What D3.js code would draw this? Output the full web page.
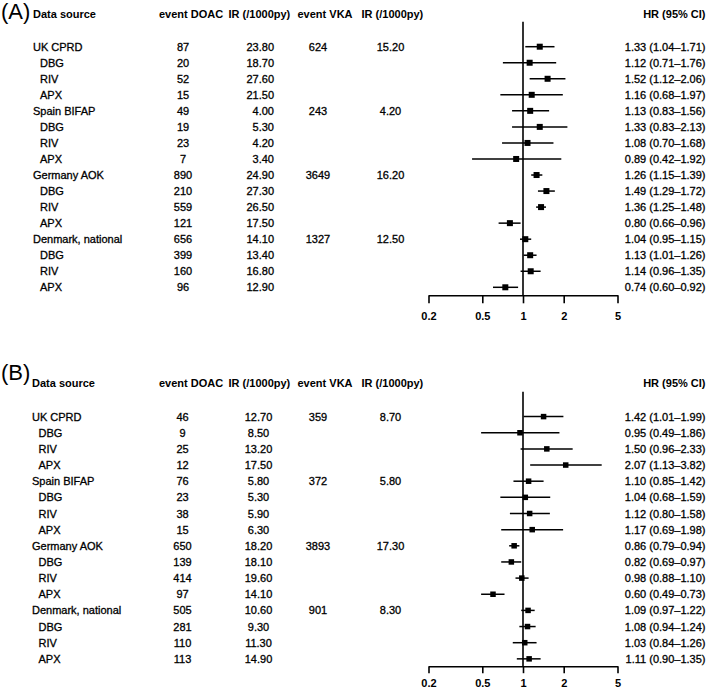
<!DOCTYPE html>
<html>
<head>
<meta charset="utf-8">
<script src="https://cdn.jsdelivr.net/npm/d3@7"></script>
<style>
  html, body { margin: 0; padding: 0; background: #fff; }
  svg { display: block; }
  text { font-family: "Liberation Sans", Arial, sans-serif; fill: #000; }
  .reg { font-size: 11px; stroke: #000; stroke-width: 0.3px; }
  .hdr { font-size: 11px; font-weight: bold; }
  .tick text { font-size: 11px; font-weight: bold; font-family: "Liberation Sans", Arial, sans-serif; }
</style>
</head>
<body>
<script>
// ---------- Data ----------
const rowLabels = ["UK CPRD", "DBG", "RIV", "APX", "Spain BIFAP", "DBG", "RIV", "APX",
                   "Germany AOK", "DBG", "RIV", "APX", "Denmark, national", "DBG", "RIV", "APX"];
const isSubgroup = [false, true, true, true, false, true, true, true,
                    false, true, true, true, false, true, true, true];
const headers = ["Data source", "event DOAC", "IR (/1000py)", "event VKA", "IR (/1000py)", "HR (95% CI)"];
const tickValues = [0.2, 0.5, 1, 2, 5];
const tickLabels = ["0.2", "0.5", "1", "2", "5"];

// Panel A
const aEventDOAC = [87, 20, 52, 15, 49, 19, 23, 7, 890, 210, 559, 121, 656, 399, 160, 96];
const aIrDOAC = [23.80, 18.70, 27.60, 21.50, 4.00, 5.30, 4.20, 3.40, 24.90, 27.30, 26.50, 17.50, 14.10, 13.40, 16.80, 12.90];
const aEventVKA = [624, null, null, null, 243, null, null, null, 3649, null, null, null, 1327, null, null, null];
const aIrVKA = [15.20, null, null, null, 4.20, null, null, null, 16.20, null, null, null, 12.50, null, null, null];
const aHR = [1.33, 1.12, 1.52, 1.16, 1.13, 1.33, 1.08, 0.89, 1.26, 1.49, 1.36, 0.80, 1.04, 1.13, 1.14, 0.74];
const aLo = [1.04, 0.71, 1.12, 0.68, 0.83, 0.83, 0.70, 0.42, 1.15, 1.29, 1.25, 0.66, 0.95, 1.01, 0.96, 0.60];
const aHi = [1.71, 1.76, 2.06, 1.97, 1.56, 2.13, 1.68, 1.92, 1.39, 1.72, 1.48, 0.96, 1.15, 1.26, 1.35, 0.92];

// Panel B
const bEventDOAC = [46, 9, 25, 12, 76, 23, 38, 15, 650, 139, 414, 97, 505, 281, 110, 113];
const bIrDOAC = [12.70, 8.50, 13.20, 17.50, 5.80, 5.30, 5.90, 6.30, 18.20, 18.10, 19.60, 14.10, 10.60, 9.30, 11.30, 14.90];
const bEventVKA = [359, null, null, null, 372, null, null, null, 3893, null, null, null, 901, null, null, null];
const bIrVKA = [8.70, null, null, null, 5.80, null, null, null, 17.30, null, null, null, 8.30, null, null, null];
const bHR = [1.42, 0.95, 1.50, 2.07, 1.10, 1.04, 1.12, 1.17, 0.86, 0.82, 0.98, 0.60, 1.09, 1.08, 1.03, 1.11];
const bLo = [1.01, 0.49, 0.96, 1.13, 0.85, 0.68, 0.80, 0.69, 0.79, 0.69, 0.88, 0.49, 0.97, 0.94, 0.84, 0.90];
const bHi = [1.99, 1.86, 2.33, 3.82, 1.42, 1.59, 1.58, 1.98, 0.94, 0.97, 1.10, 0.73, 1.22, 1.24, 1.26, 1.35];

// ---------- Drawing ----------
const W = 709, H = 692;
const svg = d3.select("body").append("svg").attr("width", W).attr("height", H);

const x = d3.scaleLog().domain([0.2, 5]).range([428.5, 617.5]);

function panel(cfg) {
  const g = svg.append("g");
  const n = rowLabels.length;
  const y = d3.scaleLinear().domain([0, n - 1]).range([cfg.row0, cfg.row0 + (n - 1) * cfg.step]);

  // Panel letter
  g.append("text").attr("x", 1).attr("y", cfg.letterY)
    .style("font-size", "22px").text(cfg.letter);

  // Headers
  const hx = [cfg.labelX, 159, 228.5, 297.5, 361.5, 705.5];
  const ha = ["start", "start", "start", "start", "start", "end"];
  headers.forEach((h, i) => {
    g.append("text").attr("class", "hdr").attr("x", hx[i]).attr("y", cfg.headerY)
      .attr("text-anchor", ha[i]).text(h);
  });

  const fmt2 = d3.format(".2f");
  const rows = g.selectAll("g.row").data(d3.range(n)).join("g").attr("class", "row");
  const base = i => y(i) + 4;

  rows.append("text").attr("class", "reg")
    .attr("x", i => isSubgroup[i] ? cfg.subX : cfg.labelX).attr("y", base)
    .text(i => rowLabels[i]);
  rows.append("text").attr("class", "reg").attr("text-anchor", "middle")
    .attr("x", cfg.evDX).attr("y", base).text(i => cfg.evD[i]);
  rows.append("text").attr("class", "reg").attr("text-anchor", cfg.irDAnchor)
    .attr("x", cfg.irDX).attr("y", base).text(i => fmt2(cfg.irD[i]));
  rows.filter(i => cfg.evV[i] !== null).append("text").attr("class", "reg")
    .attr("text-anchor", "middle").attr("x", 318).attr("y", base).text(i => cfg.evV[i]);
  rows.filter(i => cfg.irV[i] !== null).append("text").attr("class", "reg")
    .attr("text-anchor", "middle").attr("x", 390.5).attr("y", base).text(i => fmt2(cfg.irV[i]));
  rows.append("text").attr("class", "reg").attr("text-anchor", "end")
    .attr("x", 705.5).attr("y", base)
    .text(i => `${fmt2(cfg.hr[i])} (${fmt2(cfg.lo[i])}\u2013${fmt2(cfg.hi[i])})`);

  // Reference line at HR = 1
  g.append("line").attr("x1", x(1)).attr("x2", x(1))
    .attr("y1", cfg.refTop).attr("y2", cfg.axisY)
    .attr("stroke", "#000").attr("stroke-width", 1.6);

  // CI lines and squares
  rows.append("line")
    .attr("x1", i => x(cfg.lo[i])).attr("x2", i => x(cfg.hi[i]))
    .attr("y1", i => y(i)).attr("y2", i => y(i))
    .attr("stroke", "#000").attr("stroke-width", 1.5);
  rows.append("rect")
    .attr("x", i => x(cfg.hr[i]) - cfg.sq / 2).attr("y", i => y(i) - cfg.sq / 2)
    .attr("width", cfg.sq).attr("height", cfg.sq).attr("fill", "#000");

  // Axis
  const axis = d3.axisBottom(x).tickValues(tickValues)
    .tickFormat((d, i) => tickLabels[i]).tickSize(cfg.tickLen).tickSizeOuter(0).tickPadding(cfg.tickPad);
  const ag = g.append("g").attr("transform", `translate(0,${cfg.axisY})`).call(axis);
  ag.selectAll("path, line").attr("stroke", "#000").attr("stroke-width", 1.6);
  ag.selectAll("text").attr("fill", "#000");
}

panel({
  letter: "(A)", letterY: 18.5, headerY: 18, labelX: 33, subX: 40,
  row0: 46.7, step: 16.04, refTop: 21.7, axisY: 295.3, sq: 6, tickLen: 8, tickPad: 9,
  evD: aEventDOAC, irD: aIrDOAC, evV: aEventVKA, irV: aIrVKA,
  hr: aHR, lo: aLo, hi: aHi, evDX: 183, irDX: 274, irDAnchor: "end"
});

panel({
  letter: "(B)", letterY: 380, headerY: 387, labelX: 32, subX: 38.5,
  row0: 416.6, step: 16.15, refTop: 391.7, axisY: 666.2, sq: 5.5, tickLen: 7, tickPad: 6,
  evD: bEventDOAC, irD: bIrDOAC, evV: bEventVKA, irV: bIrVKA,
  hr: bHR, lo: bLo, hi: bHi, evDX: 182.5, irDX: 258.5, irDAnchor: "middle"
});
</script>
</body>
</html>
